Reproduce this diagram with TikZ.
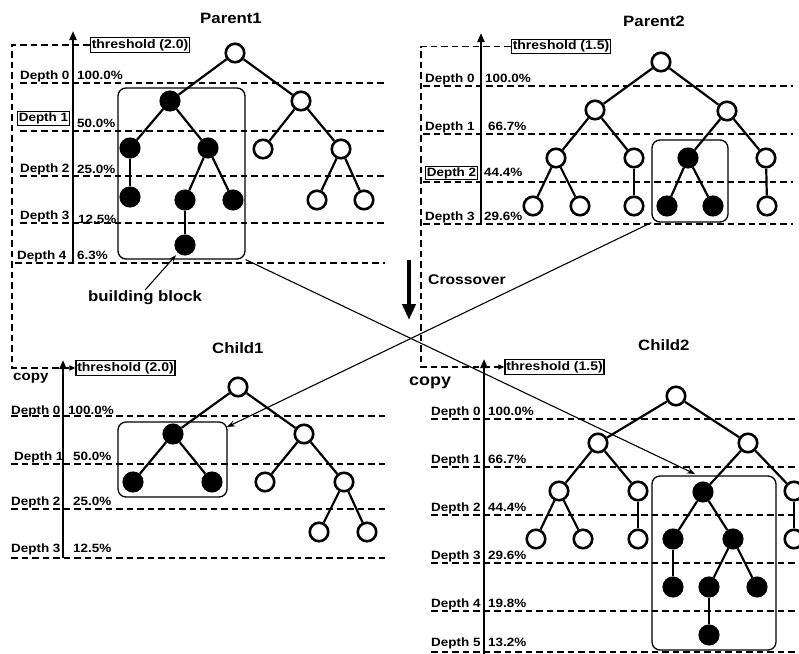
\documentclass[tikz,border=0pt]{standalone}
\usepackage{fontspec}
\setmainfont{Liberation Sans}[FakeStretch=1.12]
\usetikzlibrary{arrows.meta}
\begin{document}
\begin{tikzpicture}[x=1pt,y=-1pt,
  lbl/.style={font=\fontsize{12}{14}\selectfont\bfseries, inner sep=0, anchor=base west},
  lblbox/.style={font=\fontsize{12}{14}\selectfont\bfseries, draw, line width=1.2pt, inner sep=1.3pt},
  thr/.style={font=\fontsize{12.5}{14}\selectfont\bfseries, draw, line width=1.2pt, inner sep=1.3pt},
  ttl/.style={font=\fontsize{15}{17}\selectfont\bfseries, inner sep=0, anchor=base west},
  wn/.style={circle, draw, fill=white, line width=2.6pt, minimum size=18.5pt, inner sep=0},
  bn/.style={wn, fill=black},
  edge/.style={line width=2.2pt},
  depthline/.style={line width=2.1pt, dash pattern=on 6.5pt off 4pt},
  frame/.style={line width=1.2pt, dash pattern=on 6.5pt off 4pt},
  axis/.style={line width=2.1pt, -{Triangle[length=9pt,width=7pt]}},
  blk/.style={draw, line width=1.3pt, rounded corners=8pt, inner sep=0},
  cross/.style={line width=1.1pt, -{Stealth[length=8pt,width=6pt]}},
]
\useasboundingbox (0,0) rectangle (799,653);

% ---------------- Parent1 ----------------
\node[ttl] (p1t) at (200,23) {Parent1};
\foreach \y/\xs in {83/20,131/20,176/20,223/20,263/15} \draw[depthline] (\xs,\y) -- (385,\y);
\coordinate (p1ab) at (73,263); \coordinate (p1at) at (73,31);
\draw[axis] (p1ab) -- (p1at);
\node[thr, fill=white] (p1thr) at (140,45) {threshold (2.0)};
\node[lbl] (p1d0) at (20,79) {Depth 0};
\node[lbl] (p1p0) at (77,79) {100.0\%};
\node[lblbox] (p1d1) at (43.5,118.5) {Depth 1};
\node[lbl] (p1p1) at (77,127) {50.0\%};
\node[lbl] (p1d2) at (20,172) {Depth 2};
\node[lbl] (p1p2) at (77,173) {25.0\%};
\node[lbl] (p1d3) at (20,219) {Depth 3};
\node[lbl] (p1p3) at (78,223) {12.5\%};
\node[lbl] (p1d4) at (17,259) {Depth 4};
\node[lbl] (p1p4) at (77,259) {6.3\%};
\node[blk, minimum width=127pt, minimum height=171pt] (p1blk) at (181.5,173.5) {};
\node[wn] (p1n0) at (235,53) {};
\node[bn] (p1n1) at (170,101) {};
\node[wn] (p1n2) at (301,101) {};
\node[bn] (p1n3) at (130,148) {};
\node[bn] (p1n4) at (208,148) {};
\node[wn] (p1n5) at (263,149) {};
\node[wn] (p1n6) at (341,149) {};
\node[bn] (p1n7) at (130,197) {};
\node[bn] (p1n8) at (185,200) {};
\node[bn] (p1n9) at (233,200) {};
\node[wn] (p1n10) at (317,200) {};
\node[wn] (p1n11) at (364,200) {};
\node[bn] (p1n12) at (185,245) {};
\foreach \a/\b in {0/1,0/2,1/3,1/4,3/7,4/8,4/9,8/12,2/5,2/6,6/10,6/11}
  \draw[edge] (p1n\a) -- (p1n\b);
\node[font=\fontsize{15}{17}\selectfont\bfseries, inner sep=0, anchor=base west] (bbt) at (88,301) {building block};
\draw[line width=1.1pt, -{Stealth[length=7pt,width=5pt]}, shorten >=3pt] (bbt.north) -- (p1n12);

% ---------------- Parent2 ----------------
\node[ttl] (p2t) at (623,26) {Parent2};
\foreach \y in {86,134,182,224} \draw[depthline] (423,\y) -- (793,\y);
\coordinate (p2ab) at (481,224); \coordinate (p2at) at (481,33);
\draw[axis] (p2ab) -- (p2at);
\node[thr, fill=white] (p2thr) at (561,46.5) {threshold (1.5)};
\node[lbl] (p2d0) at (425,82) {Depth 0};
\node[lbl] (p2p0) at (485,82) {100.0\%};
\node[lbl] (p2d1) at (425,130) {Depth 1};
\node[lbl] (p2p1) at (488,130) {66.7\%};
\node[lblbox] (p2d2) at (451.5,173) {Depth 2};
\node[lbl] (p2p2) at (484,176) {44.4\%};
\node[lbl] (p2d3) at (425,220) {Depth 3};
\node[lbl] (p2p3) at (484,220) {29.6\%};
\node[blk, minimum width=76pt, minimum height=82pt] (p2blk) at (690,181) {};
\node[wn] (p2n0) at (661,62) {};
\node[wn] (p2n1) at (595,110) {};
\node[wn] (p2n2) at (727,111) {};
\node[wn] (p2n3) at (556,158) {};
\node[wn] (p2n4) at (634,158) {};
\node[bn] (p2n5) at (688,158) {};
\node[wn] (p2n6) at (766,158) {};
\node[wn] (p2n7) at (533,206) {};
\node[wn] (p2n8) at (580,206) {};
\node[wn] (p2n9) at (634,206) {};
\node[bn] (p2n10) at (667,206) {};
\node[bn] (p2n11) at (713,206) {};
\node[wn] (p2n12) at (767,206) {};
\foreach \a/\b in {0/1,0/2,1/3,1/4,3/7,3/8,4/9,2/5,2/6,5/10,5/11,6/12}
  \draw[edge] (p2n\a) -- (p2n\b);

% ---------------- Crossover ----------------
\coordinate (xs) at (409,260); \coordinate (xe) at (409,320);
\draw[line width=4pt, -{Triangle[length=16pt,width=13pt]}] (xs) -- (xe);
\node[font=\fontsize{14}{16}\selectfont\bfseries, inner sep=0, anchor=base west] (xtxt) at (428,284) {Crossover};

% ---------------- Child1 ----------------
\node[ttl] (c1t) at (212,353) {Child1};
\foreach \y in {416,464,509,558} \draw[depthline] (11,\y) -- (387,\y);
\coordinate (c1ab) at (63,558); \coordinate (c1at) at (63,360);
\draw[axis] (c1ab) -- (c1at);
\node[thr] (c1thr) at (125.5,368) {threshold (2.0)};
\node[font=\fontsize{13.5}{15}\selectfont\bfseries, inner sep=0, anchor=base west] (c1cp) at (13,380) {copy};
\node[lbl] (c1d0) at (11,414) {Depth 0};
\node[lbl] (c1p0) at (68,414) {100.0\%};
\node[lbl] (c1d1) at (14,460) {Depth 1};
\node[lbl] (c1p1) at (73,460) {50.0\%};
\node[lbl] (c1d2) at (11,505) {Depth 2};
\node[lbl] (c1p2) at (73,505) {25.0\%};
\node[lbl] (c1d3) at (11,552) {Depth 3};
\node[lbl] (c1p3) at (73,552) {12.5\%};
\node[blk, minimum width=109pt, minimum height=75pt] (c1blk) at (172.5,459.5) {};
\node[wn] (c1n0) at (238,387) {};
\node[bn] (c1n1) at (173,434) {};
\node[wn] (c1n2) at (304,434) {};
\node[bn] (c1n3) at (133,482) {};
\node[bn] (c1n4) at (212,482) {};
\node[wn] (c1n5) at (265,482) {};
\node[wn] (c1n6) at (344,482) {};
\node[wn] (c1n7) at (319,532) {};
\node[wn] (c1n8) at (367,532) {};
\foreach \a/\b in {0/1,0/2,1/3,1/4,2/5,2/6,6/7,6/8}
  \draw[edge] (c1n\a) -- (c1n\b);

% ---------------- Child2 ----------------
\node[ttl] (c2t) at (638,350) {Child2};
\foreach \y in {419,467,515,563,611,652} \draw[depthline] (431,\y) -- (799,\y);
\coordinate (c2ab) at (484,660); \coordinate (c2at) at (484,359);
\draw[axis] (c2ab) -- (c2at);
\node[thr] (c2thr) at (554.5,367) {threshold (1.5)};
\node[font=\fontsize{16}{18}\selectfont\bfseries, inner sep=0, anchor=base west] (c2cp) at (409,385) {copy};
\node[lbl] (c2d0) at (431,415) {Depth 0};
\node[lbl] (c2p0) at (488,415) {100.0\%};
\node[lbl] (c2d1) at (431,463) {Depth 1};
\node[lbl] (c2p1) at (488,463) {66.7\%};
\node[lbl] (c2d2) at (431,511) {Depth 2};
\node[lbl] (c2p2) at (488,511) {44.4\%};
\node[lbl] (c2d3) at (431,559) {Depth 3};
\node[lbl] (c2p3) at (488,559) {29.6\%};
\node[lbl] (c2d4) at (431,607) {Depth 4};
\node[lbl] (c2p4) at (488,607) {19.8\%};
\node[lbl] (c2d5) at (431,646) {Depth 5};
\node[lbl] (c2p5) at (488,646) {13.2\%};
\node[blk, minimum width=124pt, minimum height=174pt] (c2blk) at (714,563) {};
\node[wn] (c2n0) at (676,396) {};
\node[wn] (c2n1) at (598,443) {};
\node[wn] (c2n2) at (748,443) {};
\node[wn] (c2n3) at (559,491) {};
\node[wn] (c2n4) at (638,491) {};
\node[bn] (c2n5) at (703,492) {};
\node[wn] (c2n6) at (794,491) {};
\node[wn] (c2n7) at (536,539) {};
\node[wn] (c2n8) at (583,539) {};
\node[wn] (c2n9) at (638,539) {};
\node[bn] (c2n10) at (673,539) {};
\node[bn] (c2n11) at (733,539) {};
\node[wn] (c2n12) at (794,539) {};
\node[bn] (c2n13) at (673,587) {};
\node[bn] (c2n14) at (709,587) {};
\node[bn] (c2n15) at (757,587) {};
\node[bn] (c2n16) at (709,635) {};
\foreach \a/\b in {0/1,0/2,1/3,1/4,3/7,3/8,4/9,2/5,2/6,5/10,5/11,10/13,11/14,11/15,14/16,6/12}
  \draw[edge] (c2n\a) -- (c2n\b);

% ---------------- copy frames ----------------
\coordinate (f1a) at (12,45); \coordinate (f1b) at (12,368);
\draw[frame, -{Triangle[length=6pt,width=5pt]}] (p1thr.west) -- (f1a) -- (f1b) -- (c1thr.west);
\coordinate (f2a) at (421,46.5); \coordinate (f2b) at (421,367);
\draw[frame, -{Triangle[length=6pt,width=5pt]}] (p2thr.west) -- (f2a) -- (f2b) -- (c2thr.west);

% ---------------- crossing arrows ----------------
\coordinate (x1e) at (695,474);
\draw[cross] (p1blk.south east) -- (x1e);
\coordinate (x2e) at (227,427);
\draw[cross] (p2blk.south west) -- (x2e);
\end{tikzpicture}
\end{document}
